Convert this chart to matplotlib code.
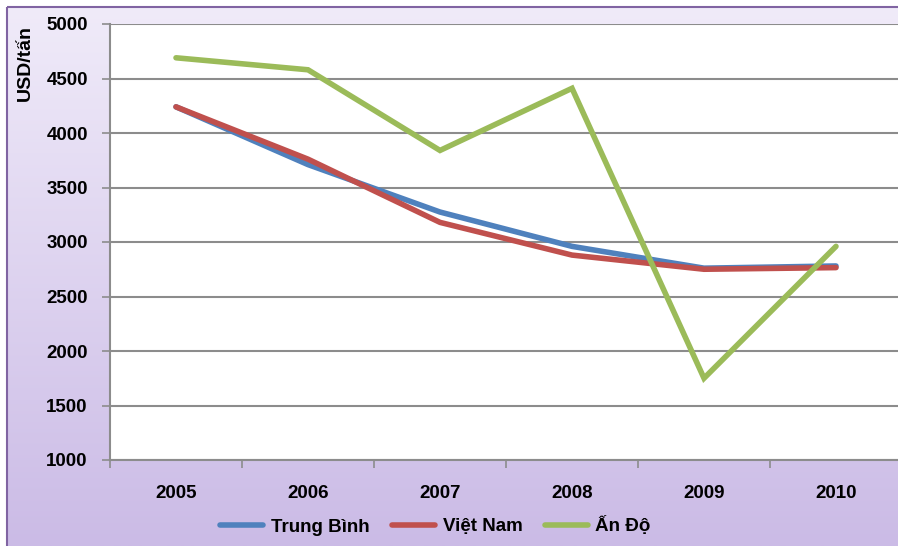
import numpy as np
import matplotlib
matplotlib.use("Agg")
from matplotlib import pyplot as plt
from matplotlib.patches import Rectangle

years = ["2005", "2006", "2007", "2008", "2009", "2010"]
trung_binh = [4240, 3710, 3275, 2960, 2760, 2780]
viet_nam = [4240, 3760, 3180, 2880, 2750, 2765]
an_do = [4690, 4580, 3840, 4410, 1750, 2960]

series_names = ["Trung Bình", "Việt Nam", "Ấn Độ"]
colors = ["#4F81BD", "#C0504D", "#9BBB59"]

plt.rcParams['font.family'] = ['Liberation Sans', 'DejaVu Sans']
plt.rcParams['font.weight'] = 'bold'

fig = plt.figure(figsize=(8.98, 5.46), dpi=100)

# background gradient with border
bg = fig.add_axes([0, 0, 1, 1], zorder=-10)
bg.set_xlim(0, 898)
bg.set_ylim(546, 0)
bg.axis('off')
top = np.array([0xF0, 0xEB, 0xF9]) / 255.0
bottom = np.array([0xCB, 0xBB, 0xE6]) / 255.0
t = np.linspace(0, 1, 256)[:, None]
grad = (top[None, :] * (1 - t) + bottom[None, :] * t)[:, None, :]
bg.imshow(grad, extent=[7, 898, 546, 7], aspect='auto', interpolation='bilinear')
bg.add_patch(Rectangle((7, 7), 900, 560, fill=False, edgecolor='#8064A2', lw=1.5))

ax = fig.add_axes([110 / 898, 1 - 460 / 546, 792 / 898, 436 / 546])
ax.set_facecolor('white')
x = np.arange(len(years))
for vals, name, c in zip([trung_binh, viet_nam, an_do], series_names, colors):
    ax.plot(x, vals, color=c, lw=4, label=name, solid_capstyle='round',
            solid_joinstyle='miter')

ax.set_xlim(-0.5, len(years) - 0.5)
ax.set_ylim(1000, 5000)
ax.set_yticks(np.arange(1000, 5001, 500))
ax.set_xticks(x)
ax.set_xticklabels(years)
ax.set_xticks(np.arange(-0.5, len(years)), minor=True)
ax.tick_params(axis='x', which='major', length=0, pad=18, labelsize=13.5)
ax.tick_params(axis='x', which='minor', length=6, color='#8c8c8c', width=1.2)
ax.tick_params(axis='y', length=6, color='#8c8c8c', width=1.2, labelsize=13.5, pad=10)
ax.yaxis.grid(True, color='#8c8c8c', lw=1.5)
ax.set_axisbelow(True)
for s in ['top', 'right']:
    ax.spines[s].set_visible(False)
for s in ['left', 'bottom']:
    ax.spines[s].set_color('#8c8c8c')
    ax.spines[s].set_linewidth(1.5)

ax.set_ylabel("USD/tấn", fontsize=14, fontweight='bold')
ax.yaxis.set_label_coords(-0.096, 0.91)

fig.legend(loc='center', bbox_to_anchor=(0.485, 1 - 526 / 546), ncol=3, frameon=False,
           fontsize=13.5, handlelength=2.3, columnspacing=1.2, handletextpad=0.4)

plt.savefig("out.png", dpi=100)
